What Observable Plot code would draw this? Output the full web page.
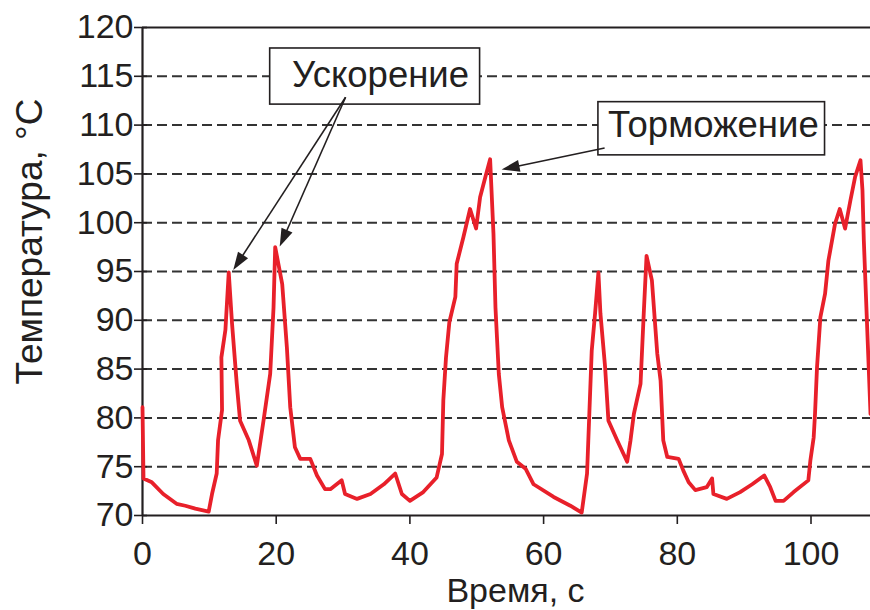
<!DOCTYPE html>
<html><head><meta charset="utf-8">
<script src="https://cdn.jsdelivr.net/npm/d3@7"></script>
<script src="https://cdn.jsdelivr.net/npm/@observablehq/plot@0.6"></script>
<style>html,body{margin:0;padding:0;background:#fff;} svg{display:block}</style>
</head><body><div id="chart"></div>
<script>
// Series: time (s) and temperature (°C)
const time = [0, 0.15, 1.4, 3.1, 5.1, 6.4, 7.9, 9.9, 10.4, 11.1, 11.3, 11.9, 11.8, 12.4, 12.9, 13.4, 14.1, 14.6, 15.9, 17.1,
  18.1, 19.1, 19.6, 19.85, 20.9, 21.6, 22.1, 22.8, 23.6, 25.1, 26.1, 27.3, 28.1, 29.8, 30.3, 32.1, 34.1, 36.1, 37.8, 38.8,
  40.0, 42.0, 44.0, 44.8, 45.0, 45.4, 45.9, 46.8, 47.0, 48.0, 49.0, 49.9, 50.5, 51.3, 52.0, 52.5, 52.8, 53.3, 53.8, 54.8,
  56.0, 57.3, 58.5, 61.5, 64.0, 65.7, 66.5, 67.2, 67.7, 68.2, 68.5, 69.2, 69.7, 71.0, 72.5, 73.0, 73.5, 74.5, 75.0, 75.4,
  76.2, 77.0, 77.5, 77.9, 78.5, 80.2, 80.9, 81.7, 82.7, 84.4, 85.2, 85.4, 87.4, 89.4, 91.2, 93.0, 93.9, 94.7, 95.9, 97.4,
  99.6, 99.9, 100.4, 100.6, 100.9, 101.4, 102.1, 102.6, 103.6, 104.3, 105.1, 105.9, 106.6, 107.4, 107.7, 107.9, 108.9];
const temp = [81.1, 73.8, 73.4, 72.2, 71.2, 71.0, 70.7, 70.4, 72.2, 74.3, 77.7, 80.8, 86.2, 89.0, 94.9, 89.6, 83.5, 79.7, 77.7, 75.1,
  79.7, 84.5, 91.3, 97.5, 93.7, 87.2, 81.1, 77.0, 75.8, 75.8, 74.1, 72.7, 72.7, 73.6, 72.2, 71.7, 72.2, 73.2, 74.3, 72.2,
  71.5, 72.4, 73.9, 76.3, 81.8, 86.2, 89.8, 92.4, 95.8, 98.5, 101.4, 99.4, 102.6, 104.7, 106.5, 98.9, 91.3, 84.5, 81.1, 77.7,
  75.5, 74.8, 73.2, 71.9, 71.0, 70.3, 74.3, 86.9, 90.7, 94.9, 90.7, 85.2, 79.7, 77.7, 75.5, 77.7, 80.4, 83.5, 91.0, 96.6,
  94.1, 86.6, 83.8, 77.7, 76.0, 75.8, 74.6, 73.4, 72.6, 72.9, 73.8, 72.2, 71.7, 72.4, 73.2, 74.1, 72.9, 71.5, 71.5, 72.4,
  73.6, 75.6, 78.0, 80.4, 85.2, 90.3, 92.7, 96.1, 99.9, 101.4, 99.4, 102.3, 104.7, 106.4, 103.3, 98.2, 80.4];

// Tick values
const xTicks = [0, 20, 40, 60, 80, 100];
const yTicks = [70, 75, 80, 85, 90, 95, 100, 105, 110, 115, 120];
const gridLevels = [75, 80, 85, 90, 95, 100, 105, 110, 115];

// Callouts (data coordinates)
const calloutLabels = ["Ускорение", "Торможение"];
const calloutX = [35.6, 85.4];
const calloutY = [115.1, 110.0];
const boxX1 = [19.1, 68.2];
const boxX2 = [50.5, 102.1];
const boxY1 = [112.1, 106.9];
const boxY2 = [117.85, 112.35];
const arrowX1 = [30.45, 30.45, 69.2];
const arrowY1 = [112.8, 112.8, 107.6];
const arrowX2 = [13.65, 20.6, 53.8];
const arrowY2 = [95.1, 97.5, 105.4];

const ink = "#231f20";
const series = time.map((t, i) => ({t, v: temp[i]}));
const callouts = calloutLabels.map((label, i) => ({label, x: calloutX[i], y: calloutY[i], x1: boxX1[i], x2: boxX2[i], y1: boxY1[i], y2: boxY2[i]}));
const arrows = arrowX1.map((x1, i) => ({x1, y1: arrowY1[i], x2: arrowX2[i], y2: arrowY2[i]}));
const HEAD = 18, HALF = 6;

function arrowMarks(index, scales) {
  const g = d3.create("svg:g");
  for (const d of arrows) {
    const x1 = scales.x(d.x1), y1 = scales.y(d.y1), x2 = scales.x(d.x2), y2 = scales.y(d.y2);
    const dx = x2 - x1, dy = y2 - y1, L = Math.hypot(dx, dy), ux = dx / L, uy = dy / L;
    const bx = x2 - ux * HEAD, by = y2 - uy * HEAD;
    g.append("line").attr("x1", x1).attr("y1", y1).attr("x2", bx + ux * 2).attr("y2", by + uy * 2)
      .attr("stroke", ink).attr("stroke-width", 1.6);
    g.append("path").attr("d", `M${x2},${y2}L${bx - uy * HALF},${by + ux * HALF}L${bx + uy * HALF},${by - ux * HALF}Z`)
      .attr("fill", ink);
  }
  return g.node();
}

const chart = Plot.plot({
  width: 870,
  height: 610,
  marginLeft: 142,
  marginRight: 0,
  marginTop: 27,
  marginBottom: 95,
  style: {fontFamily: "'Liberation Sans', Arial, sans-serif", fontSize: "34px", color: ink, background: "#fff"},
  x: {domain: [0, 108.9]},
  y: {domain: [70, 120]},
  marks: [
    Plot.ruleY(gridLevels, {stroke: "#333", strokeWidth: 2, strokeDasharray: "10,5"}),
    Plot.ruleY([120], {stroke: ink, strokeWidth: 2}),
    Plot.axisY({ticks: yTicks, tickSize: 13, dx: 5, tickFormat: () => "", label: null, strokeWidth: 1.6}),
    Plot.axisY({ticks: yTicks, tickSize: 0, tickPadding: 9, label: null, fontSize: 34}),
    Plot.axisX({ticks: xTicks, tickSize: 9, tickPadding: 16, label: null, fontSize: 34, strokeWidth: 1.6}),
    Plot.ruleX([0], {stroke: ink, strokeWidth: 2.2}),
    Plot.ruleY([70], {stroke: ink, strokeWidth: 2.2}),
    Plot.line(series, {x: "t", y: "v", stroke: "#e8202a", strokeWidth: 3.8, strokeLinejoin: "round", strokeLinecap: "round"}),
    Plot.rect(callouts, {x1: "x1", x2: "x2", y1: "y1", y2: "y2", fill: "#fff", stroke: ink, strokeWidth: 1.6}),
    Plot.text(callouts, {x: "x", y: "y", text: "label", fontSize: 36.5, fill: ink, lineAnchor: "middle", textAnchor: "middle"}),
    arrowMarks,
    Plot.text(["Температура, °C"], {frameAnchor: "left", rotate: -90, dx: -112, dy: -30, fontSize: 37, fill: ink, lineAnchor: "middle", textAnchor: "middle"}),
    Plot.text(["Время, с"], {frameAnchor: "bottom", dx: 9, dy: 76, fontSize: 34, fill: ink, lineAnchor: "middle", textAnchor: "middle"})
  ]
});
document.getElementById("chart").appendChild(chart);
</script>
</body></html>
